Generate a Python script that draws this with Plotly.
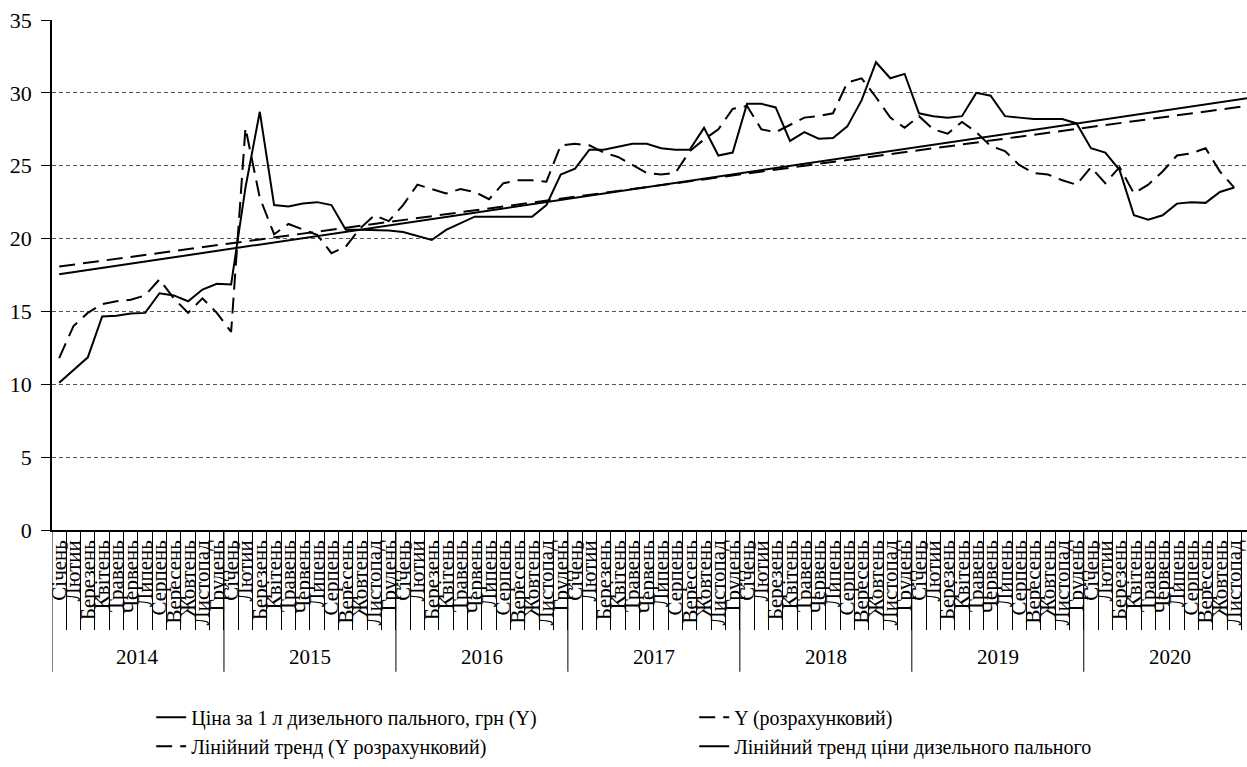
import plotly.graph_objects as go

years = ["2014", "2015", "2016", "2017", "2018", "2019", "2020"]
months = ["Січень", "Лютий", "Березень", "Квітень", "Травень", "Червень",
          "Липень", "Серпень", "Вересень", "Жовтень", "Листопад", "Грудень"]

price_actual = [
    10.1, 11.0, 11.85, 14.65, 14.7, 14.85, 14.9, 16.25, 16.1, 15.7, 16.5, 16.9,
    16.85, 23.5, 28.7, 22.3, 22.2, 22.4, 22.5, 22.3, 20.6, 20.6, 20.6, 20.55,
    20.45, 20.2, 19.9, 20.6, 21.05, 21.5, 21.5, 21.5, 21.5, 21.5, 22.3, 24.4,
    24.8, 26.1, 26.1, 26.3, 26.5, 26.5, 26.2, 26.1, 26.1, 27.6, 25.7, 25.9,
    29.25, 29.25, 29.0, 26.7, 27.3, 26.85, 26.9, 27.7, 29.5, 32.1, 31.0, 31.3,
    28.6, 28.4, 28.3, 28.4, 30.0, 29.8, 28.4, 28.3, 28.2, 28.2, 28.2, 27.9,
    26.2, 25.9, 24.7, 21.6, 21.3, 21.6, 22.4, 22.5, 22.45, 23.2, 23.5, None,
]
price_calc = [
    11.8, 14.0, 14.9, 15.5, 15.7, 15.8, 16.1, 17.2, 15.9, 14.9, 15.9, 14.9,
    13.6, 27.6, 22.8, 20.3, 21.0, 20.6, 20.25, 19.0, 19.45, 20.7, 21.6, 21.2,
    22.3, 23.7, 23.4, 23.1, 23.4, 23.2, 22.7, 23.8, 24.0, 24.0, 23.9, 26.4,
    26.5, 26.4, 25.9, 25.6, 25.05, 24.5, 24.4, 24.5, 26.0, 26.8, 27.5, 28.9,
    29.1, 27.5, 27.3, 27.8, 28.3, 28.4, 28.6, 30.7, 31.0, 29.7, 28.3, 27.6,
    28.4, 27.5, 27.2, 28.0, 27.3, 26.35, 26.0, 25.05, 24.5, 24.4, 24.0, 23.7,
    24.9, 23.8, 24.9, 23.1, 23.7, 24.6, 25.7, 25.85, 26.2, 24.6, 23.5, None,
]
# linear trends: values at first and last month
trend_calc_ends = [18.08, 29.12]
trend_actual_ends = [17.55, 29.65]

names = [
    "Ціна за 1 л дизельного пального, грн (Y)",
    "Y (розрахунковий)",
    "Лінійний тренд (Y розрахунковий)",
    "Лінійний тренд ціни дизельного пального",
]

FONT = "Liberation Serif, Times New Roman, serif"
n = len(years) * len(months)
xs = list(range(n))
labels = [m for y in years for m in months]

fig = go.Figure()
fig.add_trace(go.Scatter(x=xs, y=price_actual, mode="lines", name=names[0],
                         line=dict(color="black", width=2)))
fig.add_trace(go.Scatter(x=xs, y=price_calc, mode="lines", name=names[1],
                         line=dict(color="black", width=2, dash="16px,8px")))
fig.add_trace(go.Scatter(x=[0, n - 1], y=trend_calc_ends, mode="lines", name=names[2],
                         line=dict(color="black", width=2, dash="16px,8px")))
fig.add_trace(go.Scatter(x=[0, n - 1], y=trend_actual_ends, mode="lines", name=names[3],
                         line=dict(color="black", width=2)))

shapes = []
for k in range(len(years) + 1):
    xv = k * len(months) - 0.5
    shapes.append(dict(type="line", xref="x", yref="paper", x0=xv, x1=xv,
                       y0=0, y1=-0.278, line=dict(color="black", width=1)))

annotations = []
for k, yr in enumerate(years):
    annotations.append(dict(x=k * len(months) + (len(months) - 1) / 2, y=-0.249,
                            xref="x", yref="paper", text=yr, showarrow=False,
                            font=dict(family=FONT, size=21, color="black"),
                            xanchor="center", yanchor="middle"))

fig.update_layout(
    width=1247, height=767,
    margin=dict(l=52, r=0, t=20, b=237, autoexpand=False),
    paper_bgcolor="white", plot_bgcolor="white",
    font=dict(family=FONT, color="black"),
    showlegend=True,
    legend=dict(orientation="h", x=0.083, y=-0.329, xanchor="left", yanchor="top",
                entrywidth=498, entrywidthmode="pixels",
                font=dict(family=FONT, size=20, color="black"),
                traceorder="normal", tracegroupgap=0, itemwidth=30),
    shapes=shapes,
    annotations=annotations,
)
fig.update_xaxes(
    range=[-0.5, 82.89], tickmode="array", tickvals=xs, ticktext=labels,
    tickangle=-90, ticks="", showgrid=False, zeroline=False, automargin=False,
    showline=True, linecolor="black", linewidth=1.5,
    tickfont=dict(family=FONT, size=21, color="black"),
    minor=dict(tickmode="array", tickvals=[i - 0.5 for i in range(1, n)],
               ticks="outside", ticklen=98, tickcolor="black", tickwidth=1, showgrid=False),
)
fig.update_yaxes(
    range=[0, 35], dtick=5, tick0=0, showgrid=True, gridcolor="#555555",
    griddash="4px,3px", gridwidth=1, zeroline=False, automargin=False,
    showline=True, linecolor="black", linewidth=1.5,
    ticks="outside", ticklen=9, tickcolor="black", ticklabelstandoff=5,
    tickfont=dict(family=FONT, size=22, color="black"),
)

fig.write_html("out.html", config={"displayModeBar": False},
               post_script="document.body.style.margin='0';document.body.style.overflow='hidden';")
